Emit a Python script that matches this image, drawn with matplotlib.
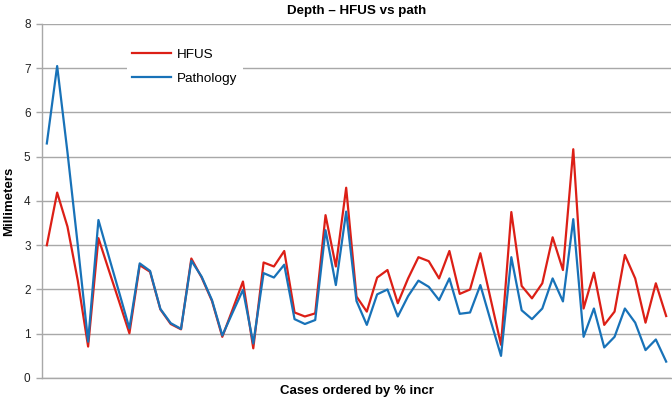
import matplotlib
matplotlib.use('Agg')
import matplotlib.pyplot as plt

# values, one per case (61 cases)
hfus = [3.00, 4.19, 3.42, 2.20, 0.71, 3.16, 2.44, 1.73, 1.01, 2.55,
        2.40, 1.55, 1.22, 1.10, 2.70, 2.27, 1.74, 0.93, 1.55, 2.18,
        0.67, 2.61, 2.52, 2.87, 1.48, 1.39, 1.46, 3.68, 2.52, 4.30,
        1.84, 1.50, 2.27, 2.44, 1.69, 2.25, 2.73, 2.64, 2.25, 2.87,
        1.90, 2.00, 2.82, 1.78, 0.75, 3.75, 2.08, 1.80, 2.14, 3.18,
        2.44, 5.17, 1.57, 2.38, 1.20, 1.50, 2.78, 2.25, 1.25, 2.14,
        1.40]
pathology = [5.30, 7.05, 5.10, 3.00, 0.82, 3.57, 2.75, 1.94, 1.12, 2.59,
             2.42, 1.56, 1.24, 1.11, 2.65, 2.29, 1.76, 0.96, 1.48, 1.99,
             0.78, 2.37, 2.27, 2.56, 1.33, 1.22, 1.31, 3.34, 2.10, 3.76,
             1.74, 1.20, 1.89, 2.00, 1.39, 1.85, 2.20, 2.06, 1.76, 2.25,
             1.45, 1.48, 2.10, 1.29, 0.50, 2.73, 1.53, 1.33, 1.57, 2.25,
             1.73, 3.59, 0.93, 1.57, 0.69, 0.93, 1.57, 1.25, 0.63, 0.87,
             0.37]
y_ticks = [0, 1, 2, 3, 4, 5, 6, 7, 8]

plt.rcParams['font.family'] = ['Liberation Sans', 'DejaVu Sans']

fig = plt.figure(figsize=(6.72, 3.98), dpi=100)
ax = fig.add_axes([0.062, 0.0503, 0.937, 0.8894])

cases = list(range(len(hfus)))
ax.plot(cases, hfus, color='#dc1f16', lw=1.6, label='HFUS', zorder=3)
ax.plot(cases, pathology, color='#1872b8', lw=1.6, label='Pathology', zorder=4)

ax.set_xlim(-0.5, len(cases) - 0.5)
ax.set_ylim(0, 8)
ax.set_yticks(y_ticks)
ax.set_xticks([])
ax.grid(axis='y', color='#a8a8a8', lw=1.0)
ax.set_axisbelow(True)

for side in ['top', 'right']:
    ax.spines[side].set_visible(False)
for side in ['left', 'bottom']:
    ax.spines[side].set_color('#a8a8a8')
    ax.spines[side].set_linewidth(1.0)
ax.tick_params(axis='y', length=4.5, width=1.0, color='#a8a8a8',
               labelsize=8.5, pad=3.5, labelcolor='#222222')

ax.set_title('Depth \u2013 HFUS vs path', fontsize=9.6, fontweight='bold', pad=7.5)
ax.set_ylabel('Millimeters', fontsize=9.5, fontweight='bold', labelpad=6)
ax.set_xlabel('Cases ordered by % incr', fontsize=9.5, fontweight='bold', labelpad=5)

# legend sits on a white box, no border
leg = ax.legend(loc='upper left', bbox_to_anchor=((127 - 41.7) / 629.3, (378 - 43) / 354),
                borderaxespad=0, fontsize=9.7, frameon=True, fancybox=False,
                handlelength=2.9, handletextpad=0.4, labelspacing=0.85,
                borderpad=0.4)
leg.get_frame().set_edgecolor('none')
leg.get_frame().set_facecolor('white')
leg.get_frame().set_alpha(1.0)

fig.savefig('out.png', dpi=100)
